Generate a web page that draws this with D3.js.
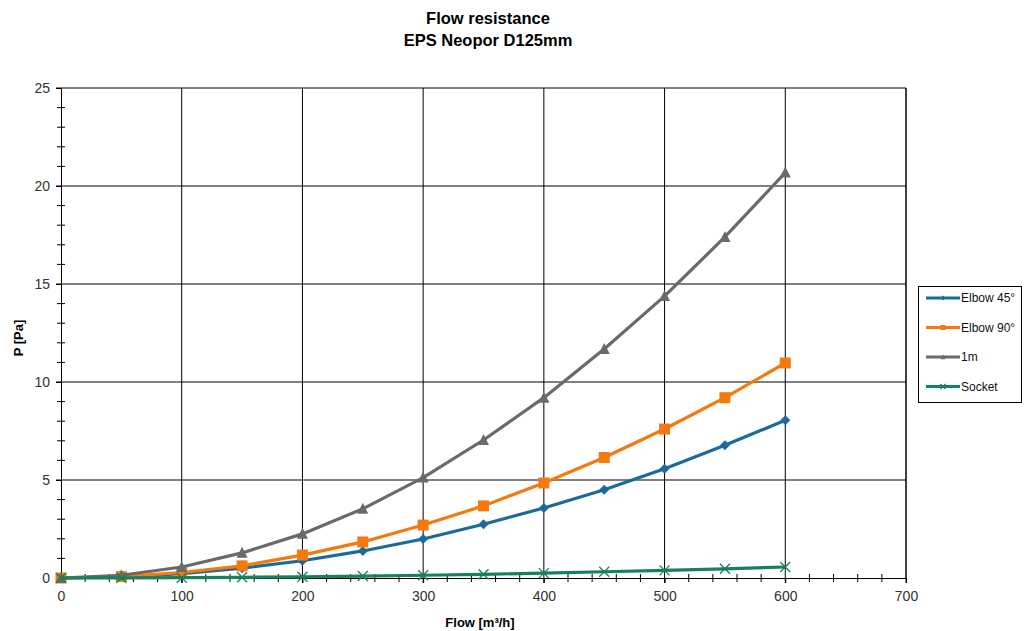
<!DOCTYPE html>
<html><head><meta charset="utf-8">
<script src="https://cdn.jsdelivr.net/npm/d3@7"></script>
<style>body{margin:0;background:#fff}svg{display:block;font-family:"Liberation Sans",Arial,sans-serif}</style>
</head><body><svg id="c" width="1024" height="631"></svg>
<script>
const flow = [0,50,100,150,200,250,300,350,400,450,500,550,600];
const elbow45 = [0,0.05,0.22,0.5,0.88,1.38,1.99,2.74,3.57,4.5,5.57,6.77,8.05];
const elbow90 = [0,0.07,0.28,0.62,1.17,1.84,2.7,3.68,4.85,6.15,7.6,9.2,10.97];
const oneM = [0,0.14,0.56,1.28,2.25,3.53,5.12,7.04,9.2,11.68,14.38,17.4,20.68];
const socket = [0,0.005,0.017,0.035,0.06,0.1,0.14,0.19,0.25,0.32,0.39,0.47,0.56];
const seriesNames = ["Elbow 45°","Elbow 90°","1m","Socket"];
const xTicks = [0,100,200,300,400,500,600,700];
const yTicks = [0,5,10,15,20,25];

const colors = ["#1b6a9c","#f47a10","#6a6a6a","#17815c"];
const shapes = ["diamond","square","triangle","cross"];
const allSeries = [elbow45, elbow90, oneM, socket];

const svg = d3.select("#c");
const L=61,R=906,T=88,B=578;
const x = d3.scaleLinear().domain([0,700]).range([L,R]);
const y = d3.scaleLinear().domain([0,25]).range([B,T]);

const g = svg.append("g");
xTicks.forEach(t=>{ if(t>0) g.append("line").attr("x1",x(t)).attr("x2",x(t)).attr("y1",T).attr("y2",B+5).attr("stroke","#000").attr("stroke-width",1); });
yTicks.forEach(t=>{ if(t>0) g.append("line").attr("x1",L-5).attr("x2",R).attr("y1",y(t)).attr("y2",y(t)).attr("stroke","#000").attr("stroke-width",1); });

d3.range(0,701,20).forEach(t=>{ if(t%100) g.append("line").attr("x1",x(t)).attr("x2",x(t)).attr("y1",B-4).attr("y2",B+4).attr("stroke","#000"); });
d3.range(0,25.01,1).forEach(t=>{ if(t%5) g.append("line").attr("x1",L-4).attr("x2",L+4).attr("y1",y(t)).attr("y2",y(t)).attr("stroke","#000"); });

const xa = svg.append("g").attr("transform",`translate(0,${B})`).call(d3.axisBottom(x).tickValues(xTicks).tickSize(5).tickPadding(5));
const ya = svg.append("g").attr("transform",`translate(${L},0)`).call(d3.axisLeft(y).tickValues(yTicks).tickSize(5).tickPadding(6));
[xa,ya].forEach(a=>{a.select(".domain").attr("stroke","#000");a.selectAll(".tick line").attr("stroke","#000");
 a.selectAll("text").attr("font-size",14).attr("fill","#333").attr("font-family","Liberation Sans, Arial, sans-serif");});
xa.selectAll("text").attr("dy","0.95em");
svg.append("line").attr("x1",R).attr("x2",R).attr("y1",T).attr("y2",B).attr("stroke","#000");

function marker(sel, shape, color, s){
  if(shape==="diamond") sel.append("path").attr("d",`M0,${-s/2}L${s/2},0L0,${s/2}L${-s/2},0Z`).attr("fill",color);
  else if(shape==="square") sel.append("rect").attr("x",-s/2).attr("y",-s/2).attr("width",s).attr("height",s).attr("fill",color);
  else if(shape==="triangle") sel.append("path").attr("d",`M0,${-s*0.55}L${s/2},${s*0.45}L${-s/2},${s*0.45}Z`).attr("fill",color);
  else sel.append("path").attr("d",`M${-s/2},${-s/2}L${s/2},${s/2}M${-s/2},${s/2}L${s/2},${-s/2}`).attr("stroke",color).attr("stroke-width",1.3).attr("fill","none");
}

const line = d3.line().x(d=>x(d[0])).y(d=>y(d[1]));
const sizes = [10,11,11,10];
allSeries.forEach((vals,i)=>{
  const pts = flow.map((f,j)=>[f,vals[j]]);
  svg.append("path").datum(pts).attr("d",line).attr("fill","none").attr("stroke",colors[i]).attr("stroke-width",3.2).attr("stroke-linejoin","round");
  pts.forEach(p=>{ const m=svg.append("g").attr("transform",`translate(${x(p[0])},${y(p[1])})`); marker(m,shapes[i],colors[i],sizes[i]); });
});

svg.append("text").attr("x",488).attr("y",24).attr("text-anchor","middle").attr("font-weight","bold").attr("font-size",16.5).text("Flow resistance");
svg.append("text").attr("x",488).attr("y",46).attr("text-anchor","middle").attr("font-weight","bold").attr("font-size",16.5).text("EPS Neopor D125mm");
svg.append("text").attr("transform","translate(23,338) rotate(-90)").attr("text-anchor","middle").attr("font-weight","bold").attr("font-size",13).text("P [Pa]");
svg.append("text").attr("x",480).attr("y",627).attr("text-anchor","middle").attr("font-weight","bold").attr("font-size",13).text("Flow [m³/h]");

const lg = svg.append("g");
lg.append("rect").attr("x",918.5).attr("y",286.5).attr("width",103).attr("height",116).attr("fill","#fff").attr("stroke","#000").attr("stroke-width",1);
seriesNames.forEach((n,i)=>{
  const yy = 298 + i*29.5;
  lg.append("line").attr("x1",926).attr("x2",960).attr("y1",yy).attr("y2",yy).attr("stroke",colors[i]).attr("stroke-width",3);
  const m = lg.append("g").attr("transform",`translate(943,${yy})`); marker(m,shapes[i],colors[i],5);
  lg.append("text").attr("x",961).attr("y",yy+4).attr("font-size",12).attr("fill","#111").text(n);
});
</script></body></html>
